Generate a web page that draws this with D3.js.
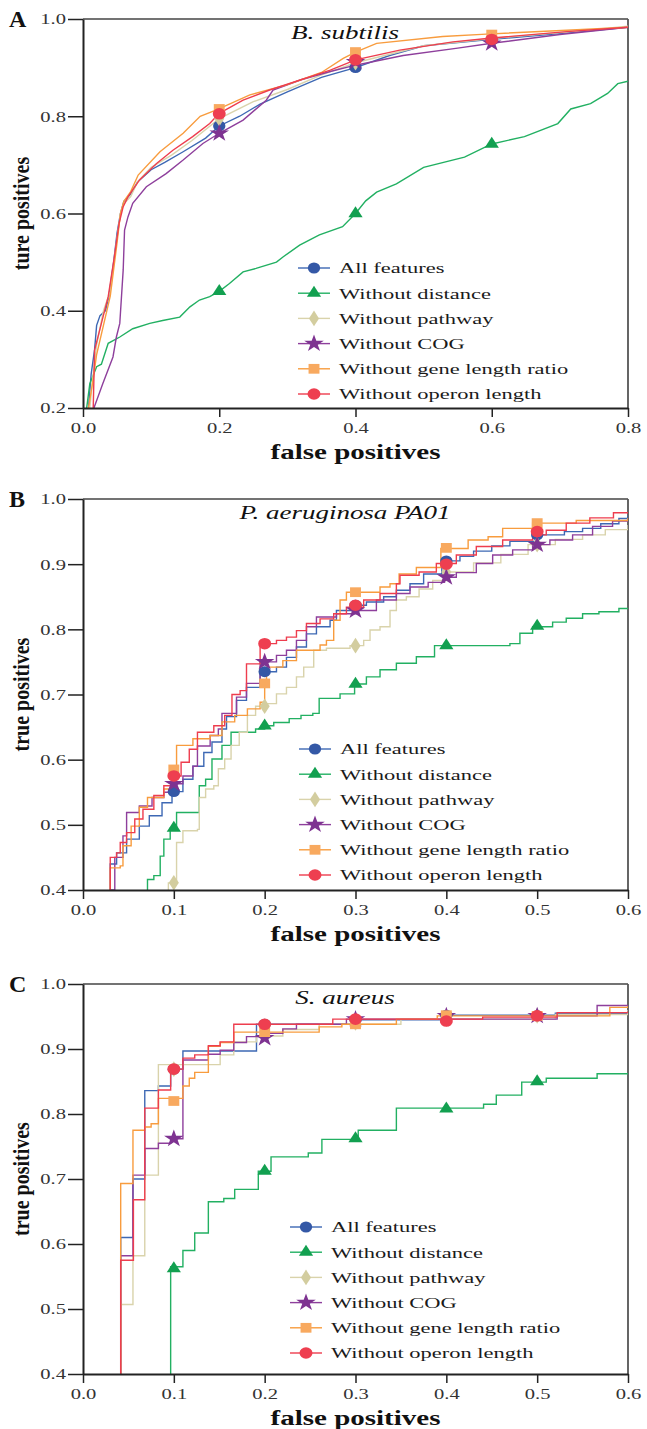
<!DOCTYPE html>
<html><head><meta charset="utf-8">
<script src="https://cdn.jsdelivr.net/npm/d3@7"></script>
<style>body{margin:0;background:#fff}svg{display:block}</style>
</head><body><svg id="c" width="647" height="1429"></svg>
<script>
// ---------------- DATA ----------------
const legendLabels = ["All features","Without distance","Without pathway","Without COG","Without gene length ratio","Without operon length"];

// Panel A : B. subtilis
const aTitle = "B. subtilis";
const aYLabel = "ture positives";
const aXTicks = [0.0,0.2,0.4,0.6,0.8];
const aYTicks = [0.2,0.4,0.6,0.8,1.0];
const aAll = [[0.008,0.2],[0.012,0.27],[0.017,0.32],[0.02,0.37],[0.025,0.39],[0.033,0.40],[0.038,0.43],[0.045,0.50],[0.05,0.56],[0.055,0.60],[0.06,0.625],[0.07,0.64],[0.08,0.665],[0.1,0.69],[0.12,0.705],[0.147,0.727],[0.18,0.755],[0.2,0.78],[0.23,0.80],[0.26,0.825],[0.3,0.85],[0.35,0.88],[0.4,0.90],[0.45,0.925],[0.5,0.945],[0.6,0.958],[0.7,0.97],[0.8,0.983]];
const aDistance = [[0.005,0.196],[0.01,0.25],[0.02,0.285],[0.027,0.29],[0.037,0.333],[0.054,0.346],[0.073,0.363],[0.098,0.374],[0.117,0.38],[0.142,0.387],[0.157,0.408],[0.171,0.422],[0.186,0.429],[0.2,0.44],[0.215,0.456],[0.235,0.48],[0.254,0.487],[0.284,0.50],[0.294,0.511],[0.318,0.535],[0.347,0.556],[0.381,0.573],[0.4,0.60],[0.415,0.626],[0.431,0.644],[0.46,0.661],[0.5,0.695],[0.56,0.716],[0.6,0.743],[0.648,0.758],[0.697,0.785],[0.716,0.815],[0.745,0.826],[0.77,0.847],[0.785,0.867],[0.8,0.872]];
const aPathway = [[0.01,0.2],[0.015,0.27],[0.02,0.33],[0.03,0.40],[0.04,0.44],[0.05,0.55],[0.055,0.60],[0.06,0.62],[0.07,0.635],[0.08,0.665],[0.1,0.695],[0.13,0.72],[0.16,0.75],[0.2,0.795],[0.25,0.83],[0.3,0.855],[0.35,0.885],[0.4,0.91],[0.5,0.945],[0.6,0.96],[0.7,0.972],[0.8,0.985]];
const aCOG = [[0.015,0.196],[0.029,0.25],[0.044,0.305],[0.049,0.346],[0.054,0.374],[0.059,0.484],[0.061,0.566],[0.066,0.593],[0.073,0.621],[0.093,0.655],[0.122,0.682],[0.147,0.71],[0.176,0.744],[0.2,0.765],[0.235,0.792],[0.269,0.833],[0.279,0.854],[0.32,0.875],[0.363,0.892],[0.4,0.905],[0.47,0.925],[0.55,0.94],[0.6,0.95],[0.7,0.968],[0.8,0.983]];
const aGeneLen = [[0.008,0.2],[0.015,0.26],[0.02,0.31],[0.03,0.37],[0.04,0.43],[0.05,0.54],[0.055,0.60],[0.06,0.625],[0.07,0.645],[0.081,0.679],[0.113,0.727],[0.147,0.765],[0.172,0.80],[0.196,0.813],[0.245,0.844],[0.3,0.865],[0.35,0.89],[0.382,0.919],[0.4,0.932],[0.431,0.95],[0.528,0.964],[0.592,0.969],[0.71,0.977],[0.8,0.983]];
const aOperon = [[0.015,0.2],[0.017,0.319],[0.027,0.374],[0.037,0.429],[0.046,0.511],[0.053,0.58],[0.059,0.614],[0.066,0.634],[0.083,0.669],[0.108,0.703],[0.132,0.73],[0.161,0.758],[0.186,0.785],[0.2,0.806],[0.235,0.833],[0.274,0.854],[0.363,0.895],[0.4,0.916],[0.465,0.936],[0.543,0.953],[0.6,0.961],[0.71,0.974],[0.8,0.983]];
const aMarkX = [0.2,0.4,0.6];
const aMarkAll = [0.78,0.90,0.957];
const aMarkDistance = [0.44,0.60,0.743];
const aMarkPathway = [0.795,0.91,0.96];
const aMarkCOG = [0.765,0.912,0.95];
const aMarkGeneLen = [0.815,0.932,0.968];
const aMarkOperon = [0.805,0.916,0.958];

// Panel B : P. aeruginosa PA01
const bTitle = "P. aeruginosa PA01";
const bYLabel = "true positives";
const bXTicks = [0.0,0.1,0.2,0.3,0.4,0.5,0.6];
const bYTicks = [0.4,0.5,0.6,0.7,0.8,0.9,1.0];
const bAll = [[0.03,0.40],[0.03,0.44],[0.037,0.457],[0.048,0.478],[0.062,0.498],[0.073,0.514],[0.087,0.534],[0.098,0.551],[0.11,0.57],[0.121,0.59],[0.133,0.611],[0.142,0.627],[0.153,0.647],[0.158,0.666],[0.169,0.691],[0.18,0.711],[0.195,0.735],[0.213,0.742],[0.224,0.757],[0.235,0.773],[0.246,0.793],[0.257,0.804],[0.272,0.814],[0.279,0.829],[0.301,0.837],[0.312,0.842],[0.331,0.85],[0.345,0.86],[0.36,0.87],[0.375,0.885],[0.395,0.905],[0.415,0.912],[0.43,0.92],[0.45,0.928],[0.47,0.935],[0.5,0.945],[0.53,0.95],[0.55,0.955],[0.57,0.962],[0.59,0.97],[0.6,0.975]];
const bDistance = [[0.071,0.40],[0.071,0.416],[0.078,0.422],[0.085,0.452],[0.089,0.478],[0.096,0.495],[0.103,0.519],[0.128,0.56],[0.135,0.57],[0.142,0.601],[0.153,0.622],[0.163,0.642],[0.19,0.647],[0.2,0.652],[0.21,0.657],[0.227,0.663],[0.24,0.668],[0.253,0.671],[0.26,0.694],[0.283,0.701],[0.299,0.716],[0.312,0.727],[0.327,0.738],[0.345,0.748],[0.367,0.758],[0.387,0.775],[0.47,0.778],[0.481,0.794],[0.495,0.804],[0.517,0.811],[0.532,0.817],[0.55,0.824],[0.568,0.827],[0.59,0.832],[0.6,0.833]];
const bPathway = [[0.094,0.40],[0.094,0.411],[0.103,0.416],[0.103,0.473],[0.11,0.491],[0.126,0.493],[0.128,0.542],[0.135,0.555],[0.144,0.56],[0.149,0.586],[0.156,0.601],[0.163,0.622],[0.172,0.642],[0.181,0.668],[0.19,0.682],[0.202,0.686],[0.213,0.701],[0.224,0.711],[0.235,0.727],[0.243,0.742],[0.254,0.768],[0.268,0.771],[0.294,0.775],[0.309,0.783],[0.316,0.799],[0.327,0.804],[0.338,0.829],[0.345,0.845],[0.356,0.85],[0.37,0.862],[0.385,0.875],[0.4,0.888],[0.43,0.902],[0.46,0.915],[0.49,0.93],[0.52,0.938],[0.55,0.945],[0.575,0.953],[0.6,0.96]];
const bCOG = [[0.03,0.40],[0.035,0.45],[0.044,0.483],[0.048,0.519],[0.062,0.529],[0.076,0.542],[0.089,0.55],[0.098,0.563],[0.11,0.575],[0.121,0.59],[0.126,0.621],[0.14,0.637],[0.149,0.647],[0.153,0.671],[0.169,0.696],[0.18,0.717],[0.195,0.75],[0.213,0.76],[0.224,0.768],[0.235,0.783],[0.246,0.804],[0.257,0.819],[0.279,0.824],[0.301,0.829],[0.323,0.845],[0.345,0.855],[0.36,0.865],[0.38,0.872],[0.398,0.88],[0.411,0.887],[0.433,0.901],[0.451,0.914],[0.473,0.922],[0.495,0.93],[0.514,0.937],[0.539,0.945],[0.561,0.958],[0.583,0.966],[0.6,0.97]];
const bGeneLen = [[0.03,0.40],[0.03,0.434],[0.041,0.437],[0.044,0.468],[0.053,0.498],[0.062,0.527],[0.071,0.542],[0.089,0.555],[0.098,0.586],[0.103,0.622],[0.121,0.632],[0.14,0.637],[0.153,0.658],[0.167,0.668],[0.181,0.678],[0.195,0.688],[0.2,0.717],[0.202,0.742],[0.22,0.752],[0.235,0.768],[0.261,0.776],[0.268,0.783],[0.276,0.814],[0.283,0.845],[0.29,0.857],[0.327,0.865],[0.338,0.87],[0.348,0.885],[0.367,0.895],[0.394,0.924],[0.424,0.937],[0.446,0.942],[0.462,0.955],[0.495,0.963],[0.543,0.967],[0.6,0.971]];
const bOperon = [[0.03,0.40],[0.03,0.45],[0.037,0.457],[0.041,0.473],[0.048,0.488],[0.057,0.509],[0.066,0.524],[0.078,0.545],[0.089,0.56],[0.098,0.575],[0.108,0.596],[0.117,0.616],[0.126,0.642],[0.144,0.652],[0.156,0.668],[0.164,0.70],[0.173,0.706],[0.18,0.747],[0.195,0.778],[0.213,0.783],[0.224,0.788],[0.235,0.798],[0.246,0.809],[0.261,0.816],[0.276,0.824],[0.29,0.834],[0.309,0.845],[0.327,0.855],[0.345,0.87],[0.349,0.883],[0.37,0.888],[0.389,0.901],[0.411,0.914],[0.433,0.927],[0.462,0.937],[0.495,0.945],[0.51,0.952],[0.532,0.963],[0.558,0.971],[0.584,0.979],[0.6,0.98]];
const bMarkX = [0.1,0.2,0.3,0.4,0.5];
const bMarkAll = [0.551,0.735,0.837,0.905,0.945];
const bMarkDistance = [0.495,0.652,0.716,0.775,0.805];
const bMarkPathway = [0.411,0.682,0.775,0.888,0.93];
const bMarkCOG = [0.563,0.75,0.829,0.88,0.93];
const bMarkGeneLen = [0.585,0.717,0.857,0.925,0.963];
const bMarkOperon = [0.575,0.778,0.837,0.90,0.95];

// Panel C : S. aureus
const cTitle = "S. aureus";
const cYLabel = "true positives";
const cXTicks = [0.0,0.1,0.2,0.3,0.4,0.5,0.6];
const cYTicks = [0.4,0.5,0.6,0.7,0.8,0.9,1.0];
const cAll = [[0.0415,0.40],[0.0415,0.61],[0.055,0.70],[0.068,0.836],[0.083,0.843],[0.0965,0.869],[0.11,0.897],[0.191,0.938],[0.3,0.945],[0.4,0.952],[0.52,0.955],[0.6,0.96]];
const cDistance = [[0.0965,0.40],[0.0965,0.565],[0.11,0.59],[0.123,0.617],[0.138,0.665],[0.155,0.67],[0.167,0.684],[0.193,0.712],[0.207,0.734],[0.248,0.74],[0.263,0.761],[0.303,0.775],[0.345,0.809],[0.441,0.815],[0.455,0.829],[0.483,0.849],[0.51,0.855],[0.566,0.862],[0.6,0.862]];
const cPathway = [[0.0415,0.40],[0.0415,0.507],[0.055,0.582],[0.068,0.706],[0.083,0.876],[0.151,0.891],[0.166,0.911],[0.191,0.92],[0.22,0.93],[0.26,0.938],[0.35,0.946],[0.52,0.953],[0.6,0.96]];
const cCOG = [[0.0415,0.40],[0.0415,0.582],[0.055,0.706],[0.068,0.747],[0.083,0.755],[0.0965,0.762],[0.11,0.883],[0.138,0.892],[0.151,0.898],[0.166,0.91],[0.18,0.919],[0.202,0.924],[0.22,0.931],[0.235,0.938],[0.29,0.946],[0.522,0.951],[0.566,0.967],[0.6,0.967]];
const cGeneLen = [[0.0415,0.40],[0.0415,0.693],[0.055,0.775],[0.068,0.78],[0.075,0.785],[0.083,0.824],[0.11,0.843],[0.117,0.855],[0.123,0.864],[0.138,0.904],[0.151,0.91],[0.166,0.926],[0.26,0.934],[0.285,0.938],[0.345,0.946],[0.39,0.951],[0.58,0.964],[0.6,0.966]];
const cOperon = [[0.0415,0.40],[0.0415,0.575],[0.0555,0.668],[0.068,0.809],[0.083,0.837],[0.0965,0.869],[0.11,0.886],[0.123,0.891],[0.138,0.905],[0.151,0.911],[0.166,0.938],[0.275,0.946],[0.44,0.949],[0.522,0.956],[0.6,0.958]];
const cMarkX = [0.1,0.2,0.3,0.4,0.5];
const cMarkAll = [0.869,0.938,0.945,0.952,0.951];
const cMarkDistance = [0.562,0.712,0.762,0.808,0.850];
const cMarkPathway = [0.869,0.932,0.94,0.946,0.951];
const cMarkCOG = [0.762,0.917,0.946,0.951,0.951];
const cMarkGeneLen = [0.82,0.926,0.938,0.952,0.951];
const cMarkOperon = [0.869,0.938,0.946,0.943,0.951];

// ---------------- STYLE ----------------
const lineColors = ["#3d68b4","#22b062","#d9d3ab","#8e3f9c","#f89c3e","#ee3d4e"];
const markColors = ["#3458a6","#12a050","#d3cd9f","#7e3391","#f8a95f","#ee3f50"];
const symbols = [d3.symbolCircle,d3.symbolTriangle,d3.symbolDiamond,d3.symbolStar,d3.symbolSquare,d3.symbolCircle];
const symSizes = [95,70,70,95,95,105];
const SERIF = "'Liberation Serif','Times New Roman',serif";
const SX = 1.47;

const svg = d3.select("#c");

function drawPanel(p){
  const x = d3.scaleLinear().domain([0,p.xMax]).range([83,628]);
  const y = d3.scaleLinear().domain([p.yMin,1]).range([p.bottom,p.top]);
  const g = svg.append("g");

  // box top/right
  g.append("line").attr("x1",83).attr("x2",628).attr("y1",p.top).attr("y2",p.top).attr("stroke","#444").attr("stroke-width",1.5);
  g.append("line").attr("x1",628).attr("x2",628).attr("y1",p.top).attr("y2",p.bottom).attr("stroke","#555").attr("stroke-width",1.8);

  // curves
  const clipId = "clip"+p.letter;
  svg.append("clipPath").attr("id",clipId).append("rect").attr("x",83).attr("y",p.top).attr("width",545).attr("height",p.bottom-p.top);
  const line = d3.line().x(d=>x(d[0])).y(d=>y(d[1])).curve(p.curve);
  const cg = g.append("g").attr("clip-path",`url(#${clipId})`);
  p.series.forEach((s,i)=>{
    cg.append("path").datum(s).attr("d",line).attr("fill","none")
      .attr("stroke",lineColors[i]).attr("stroke-width",1.4).attr("stroke-linejoin","miter");
  });
  // markers
  p.marks.forEach((m,i)=>{
    const sym = d3.symbol().type(symbols[i]).size(symSizes[i]);
    m.forEach((v,j)=>{
      g.append("path").attr("d",sym())
        .attr("transform",`translate(${x(p.markX[j])},${y(v)}) scale(1.12,1)`)
        .attr("fill",markColors[i]);
    });
  });

  // axes
  const gx = g.append("g").attr("transform",`translate(0,${p.bottom})`)
    .call(d3.axisBottom(x).tickValues(p.xTicks).tickSize(9).tickSizeOuter(0).tickFormat(d3.format(".1f")));
  const gy = g.append("g").attr("transform","translate(83,0)")
    .call(d3.axisLeft(y).tickValues(p.yTicks).tickSize(15).tickSizeOuter(0).tickFormat(d3.format(".1f")));
  [gx,gy].forEach(a=>{
    a.attr("font-family",SERIF).attr("font-size",14);
    a.select(".domain").attr("stroke","#222").attr("stroke-width",2);
    a.selectAll(".tick line").attr("stroke","#222").attr("stroke-width",1.5);
    a.selectAll(".tick text").attr("fill","#333");
  });
  gx.selectAll(".tick text").attr("y",0).attr("dy",0).attr("transform",`translate(0,25) scale(${SX},1)`);
  gy.selectAll(".tick text").attr("x",0).attr("dy","0.35em").attr("transform",`translate(-17,0) scale(${SX},1)`);

  // labels
  svg.append("text").attr("x",9).attr("y",p.top+7.5).attr("font-family",SERIF).attr("font-weight","bold")
    .attr("font-size",24).attr("fill","#111").text(p.letter);
  svg.append("text").attr("transform",`translate(345,${p.top+20}) scale(1.5,1)`).attr("text-anchor","middle")
    .attr("font-family",SERIF).attr("font-style","italic").attr("font-size",18).attr("fill","#111").text(p.title);
  svg.append("text").attr("transform",`translate(355.5,${p.bottom+51}) scale(1.45,1)`).attr("text-anchor","middle")
    .attr("font-family",SERIF).attr("font-weight","bold").attr("font-size",20).attr("fill","#111").text("false positives");
  svg.append("text").attr("transform",`translate(29,${(p.top+p.bottom)/2}) scale(1.2,1) rotate(-90)`).attr("text-anchor","middle")
    .attr("font-family",SERIF).attr("font-weight","bold").attr("font-size",20).attr("fill","#111").text(p.yLabel);

  // legend
  const lg = svg.append("g");
  legendLabels.forEach((t,i)=>{
    const ry = p.legY + i*25.2;
    lg.append("line").attr("x1",p.legX-16).attr("x2",p.legX+16).attr("y1",ry).attr("y2",ry)
      .attr("stroke",lineColors[i]).attr("stroke-width",1.4);
    lg.append("path").attr("d",d3.symbol().type(symbols[i]).size(symSizes[i])())
      .attr("transform",`translate(${p.legX},${ry}) scale(1.12,1)`).attr("fill",markColors[i]);
    lg.append("text").attr("transform",`translate(${p.legX+25},${ry}) scale(1.45,1)`).attr("dy","0.35em")
      .attr("font-family",SERIF).attr("font-size",15.5).attr("fill","#1a1a1a").text(t);
  });
}

drawPanel({letter:"A",title:aTitle,yLabel:aYLabel,top:19,bottom:408,xMax:0.8,yMin:0.2,xTicks:aXTicks,yTicks:aYTicks,
  curve:d3.curveLinear,series:[aAll,aDistance,aPathway,aCOG,aGeneLen,aOperon],
  markX:aMarkX,marks:[aMarkAll,aMarkDistance,aMarkPathway,aMarkCOG,aMarkGeneLen,aMarkOperon],legX:314,legY:268});
drawPanel({letter:"B",title:bTitle,yLabel:bYLabel,top:499,bottom:890,xMax:0.6,yMin:0.4,xTicks:bXTicks,yTicks:bYTicks,
  curve:d3.curveStepAfter,series:[bAll,bDistance,bPathway,bCOG,bGeneLen,bOperon],
  markX:bMarkX,marks:[bMarkAll,bMarkDistance,bMarkPathway,bMarkCOG,bMarkGeneLen,bMarkOperon],legX:315,legY:749});
drawPanel({letter:"C",title:cTitle,yLabel:cYLabel,top:984,bottom:1374,xMax:0.6,yMin:0.4,xTicks:cXTicks,yTicks:cYTicks,
  curve:d3.curveStepAfter,series:[cAll,cDistance,cPathway,cCOG,cGeneLen,cOperon],
  markX:cMarkX,marks:[cMarkAll,cMarkDistance,cMarkPathway,cMarkCOG,cMarkGeneLen,cMarkOperon],legX:306,legY:1227});
</script></body></html>
